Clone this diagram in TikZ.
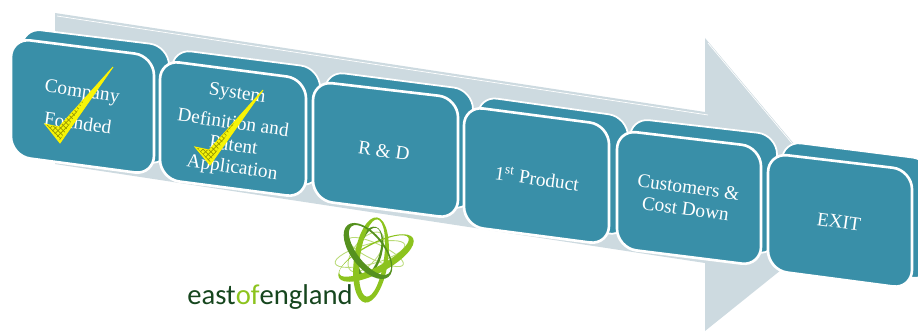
\documentclass[tikz,border=0pt]{standalone}
\usepackage{fontspec}
\setmainfont{Liberation Serif}
\newfontfamily\logofont{Carlito}
\usetikzlibrary{calc,patterns}
\definecolor{panelteal}{RGB}{57,143,168}
\definecolor{arrowgray}{RGB}{205,218,224}
\definecolor{tickyellow}{RGB}{245,245,10}
\definecolor{logodark}{RGB}{22,70,30}
\definecolor{logolime}{RGB}{140,195,30}
\definecolor{logomoss}{RGB}{85,145,30}
\tikzset{
    backpanel/.style={fill=panelteal,draw=white,line width=1pt,rounded corners=11pt},
    frontpanel/.style={fill=panelteal,draw=white,line width=1.5pt,rounded corners=11pt},
    paneltext/.style={text=white,font=\fontsize{11}{12.5}\selectfont,rotate=-8,align=center,inner sep=0pt},
    tickmark/.style={fill=tickyellow,draw=yellow,line width=0.5pt},
    tickshade/.style={pattern=crosshatch,pattern color=olive!80},
    bigarrow/.style={fill=arrowgray,draw=none},
    arrowrim/.style={draw=white,line width=0.4pt},
    swoosh/.style={fill=logolime,even odd rule},
    swooshdark/.style={fill=logomoss,even odd rule},
    orbitthin/.style={draw=logolime!60,line width=0.5pt,fill=none}
}

\begin{document}
\begin{tikzpicture}[x=0.02cm,y=-0.02cm]
    \useasboundingbox (0,0) rectangle (918,331);
    \clip (0,0) rectangle (918,331);
    % Arrow
    \fill[bigarrow] (55,13) -- (705,112) -- (705,38) -- (852,213) -- (705,331) -- (705,263) -- (55,164) -- cycle;
    \draw[arrowrim] (57,16) -- (708,115);
    \draw[arrowrim] (708,43) -- (796,148);
    % Company Founded
    \draw[backpanel] (22,28) -- (169,46) -- (169,165) -- (22,147) -- cycle;
    \draw[frontpanel] (11,38) -- (154,56) -- (154,175) -- (11,156) -- cycle;
    \node[paneltext] (founded) at (80,107) {Company\\[6pt]Founded};
    % System Definition
    \draw[backpanel] (172,49) -- (320,68) -- (320,187) -- (172,168) -- cycle;
    \draw[frontpanel] (160,60) -- (306,79) -- (306,198) -- (160,179) -- cycle;
    \node[paneltext] (system) at (232,131) {System\hspace{6pt}\\[5pt]Definition and\\\hspace{4pt}Patent\\\hspace{6pt}Application};
    % R and D
    \draw[backpanel] (325,71) -- (473,90) -- (473,210) -- (325,191) -- cycle;
    \draw[frontpanel] (313,81) -- (458,98) -- (458,219) -- (313,200) -- cycle;
    \node[paneltext] (rnd) at (384,151) {R \& D};
    % First product
    \draw[backpanel] (478,96) -- (628,117) -- (628,236) -- (478,217) -- cycle;
    \draw[frontpanel] (464,106) -- (609,125) -- (609,245) -- (464,226) -- cycle;
    \node[paneltext] (product) at (537,178) {1\textsuperscript{st} Product};
    % Customers
    \draw[backpanel] (630,118) -- (777,135) -- (777,255) -- (630,237) -- cycle;
    \draw[frontpanel] (617,130) -- (761,147) -- (761,266) -- (617,248) -- cycle;
    \node[paneltext] (customers) at (687,198) {Customers \&\\Cost Down};
    % Exit
    \draw[backpanel] (782,141) -- (932,160) -- (932,280) -- (782,262) -- cycle;
    \draw[frontpanel] (768,153) -- (912,170) -- (912,289) -- (768,270) -- cycle;
    \node[paneltext] (exit) at (839,222) {EXIT};
    % Ticks
    \fill[tickmark] (45,124) -- (59,127) -- (113,67) -- (60,143) -- cycle;
    \fill[tickshade] (47,125) -- (59,127) -- (84,100) -- (60,140) -- cycle;
    \fill[tickmark] (195,147) -- (209,150) -- (263,90) -- (210,165) -- cycle;
    \fill[tickshade] (197,148) -- (209,150) -- (234,123) -- (210,162) -- cycle;
    % Logo
    \draw[orbitthin] (370,254) ellipse [x radius=36,y radius=10,rotate=15];
    \draw[orbitthin] (376,252) ellipse [x radius=30,y radius=8,rotate=-25];
    \draw[orbitthin] (366,252) ellipse [x radius=24,y radius=12,rotate=50];
    \fill[swooshdark] (369,252) ellipse [x radius=26,y radius=13,rotate=75] (370,251) ellipse [x radius=24,y radius=10,rotate=75];
    \fill[swoosh] (371,260) ellipse [x radius=43,y radius=17,rotate=82] (372,258) ellipse [x radius=39,y radius=12,rotate=82];
    \fill[swoosh] (376,258) ellipse [x radius=42,y radius=15,rotate=28] (374,256) ellipse [x radius=39,y radius=11,rotate=28];
    \fill[swooshdark] (368,251) ellipse [x radius=33,y radius=17,rotate=-52] (370,250) ellipse [x radius=30,y radius=13,rotate=-52];
    \node[anchor=base west,inner sep=0pt,text=logodark,font=\logofont\fontsize{16.3}{18}\selectfont] (logoword) at (187,304) {east\textcolor{logolime}{of}england};
\end{tikzpicture}
\end{document}
